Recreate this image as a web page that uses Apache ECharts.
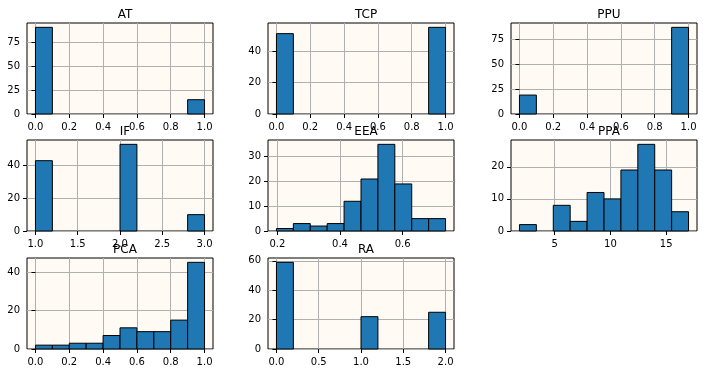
<!DOCTYPE html>
<html>
<head>
<meta charset="utf-8">
<script src="https://cdn.jsdelivr.net/npm/echarts@6/dist/echarts.min.js"></script>
<style>
  html, body { margin: 0; background: #fff; }
  #chart { width: 703px; height: 373px; }
</style>
</head>
<body>
<div id="chart"></div>
<script>
// histogram counts and bin edges
const atEdges = [0, 0.1, 0.2, 0.3, 0.4, 0.5, 0.6, 0.7, 0.8, 0.9, 1.0]
const atCounts = [91, 0, 0, 0, 0, 0, 0, 0, 0, 15]
const tcpEdges = [0, 0.1, 0.2, 0.3, 0.4, 0.5, 0.6, 0.7, 0.8, 0.9, 1.0]
const tcpCounts = [51, 0, 0, 0, 0, 0, 0, 0, 0, 55]
const ppuEdges = [0, 0.1, 0.2, 0.3, 0.4, 0.5, 0.6, 0.7, 0.8, 0.9, 1.0]
const ppuCounts = [19, 0, 0, 0, 0, 0, 0, 0, 0, 87]
const ifEdges = [1.0, 1.2, 1.4, 1.6, 1.8, 2.0, 2.2, 2.4, 2.6, 2.8, 3.0]
const ifCounts = [43, 0, 0, 0, 0, 53, 0, 0, 0, 10]
const eeaEdges = [0.197, 0.251, 0.305, 0.359, 0.413, 0.467, 0.521, 0.575, 0.629, 0.683, 0.737]
const eeaCounts = [1, 3, 2, 3, 12, 21, 35, 19, 5, 5]
const ppaEdges = [1.85, 3.365, 4.88, 6.395, 7.91, 9.425, 10.94, 12.455, 13.97, 15.485, 17.0]
const ppaCounts = [2, 0, 8, 3, 12, 10, 19, 27, 19, 6]
const pcaEdges = [0, 0.1, 0.2, 0.3, 0.4, 0.5, 0.6, 0.7, 0.8, 0.9, 1.0]
const pcaCounts = [2, 2, 3, 3, 7, 11, 9, 9, 15, 45]
const raEdges = [0, 0.2, 0.4, 0.6, 0.8, 1.0, 1.2, 1.4, 1.6, 1.8, 2.0]
const raCounts = [59, 0, 0, 0, 0, 22, 0, 0, 0, 25]

// tick values
const ticks01 = [0, 0.2, 0.4, 0.6, 0.8, 1.0]
const ifTicksX = [1.0, 1.5, 2.0, 2.5, 3.0]
const eeaTicksX = [0.2, 0.4, 0.6]
const ppaTicksX = [5, 10, 15]
const raTicksX = [0, 0.5, 1.0, 1.5, 2.0]
const ticksY25 = [0, 25, 50, 75]
const ticksY20 = [0, 20, 40]
const ticksY10 = [0, 10, 20, 30]
const ppaTicksY = [0, 10, 20]
const raTicksY = [0, 20, 40, 60]

const panels = [
  { title: 'AT', edges: atEdges, counts: atCounts, xTicks: ticks01, yTicks: ticksY25, dec: 1 },
  { title: 'TCP', edges: tcpEdges, counts: tcpCounts, xTicks: ticks01, yTicks: ticksY20, dec: 1 },
  { title: 'PPU', edges: ppuEdges, counts: ppuCounts, xTicks: ticks01, yTicks: ticksY25, dec: 1 },
  { title: 'IF', edges: ifEdges, counts: ifCounts, xTicks: ifTicksX, yTicks: ticksY20, dec: 1 },
  { title: 'EEA', edges: eeaEdges, counts: eeaCounts, xTicks: eeaTicksX, yTicks: ticksY10, dec: 1 },
  { title: 'PPA', edges: ppaEdges, counts: ppaCounts, xTicks: ppaTicksX, yTicks: ppaTicksY, dec: 0 },
  { title: 'PCA', edges: pcaEdges, counts: pcaCounts, xTicks: ticks01, yTicks: ticksY20, dec: 1 },
  { title: 'RA', edges: raEdges, counts: raCounts, xTicks: raTicksX, yTicks: raTicksY, dec: 1 }
]

const COL_LEFT = [27, 268, 511]
const ROW_TOP = [23, 140, 258]
const W = 186
const H = 91
const FONT = 'DejaVu Sans'

const option = {
  animation: false,
  backgroundColor: '#fff',
  title: [],
  grid: [],
  xAxis: [],
  yAxis: [],
  series: []
}

panels.forEach((p, i) => {
  const left = COL_LEFT[i % 3]
  const top = ROW_TOP[Math.floor(i / 3)]
  const lo = p.edges[0]
  const hi = p.edges[p.edges.length - 1]
  const pad = (hi - lo) * 0.05
  const yMax = Math.max(...p.counts) * 1.05

  option.title.push({
    text: p.title,
    left: left + W / 2,
    top: top - 19,
    textAlign: 'center',
    textStyle: { fontFamily: FONT, fontSize: 12, fontWeight: 'normal', color: '#000' }
  })
  option.grid.push({
    left: left, top: top, width: W, height: H,
    show: true, backgroundColor: '#fffaf4', borderColor: '#000', borderWidth: 1
  })
  option.xAxis.push({
    type: 'value', gridIndex: i, min: lo - pad, max: hi + pad,
    axisLine: { show: false },
    axisTick: { show: true, length: 4, customValues: p.xTicks, lineStyle: { color: '#000' } },
    axisLabel: {
      customValues: p.xTicks, margin: 8, fontFamily: FONT, fontSize: 10, color: '#000',
      formatter: (v) => v.toFixed(p.dec)
    },
    splitLine: { show: true, lineStyle: { color: '#b0b0b0', width: 1 } }
  })
  option.yAxis.push({
    type: 'value', gridIndex: i, min: 0, max: yMax,
    axisLine: { show: false },
    axisTick: { show: true, length: 4, customValues: p.yTicks, lineStyle: { color: '#000' } },
    axisLabel: {
      customValues: p.yTicks, margin: 7, fontFamily: FONT, fontSize: 10, color: '#000',
      formatter: (v) => String(v)
    },
    splitLine: { show: true, lineStyle: { color: '#b0b0b0', width: 1 } }
  })

  const data = []
  p.counts.forEach((c, k) => {
    if (c > 0) data.push([p.edges[k], p.edges[k + 1], c])
  })
  option.series.push({
    type: 'custom',
    xAxisIndex: i,
    yAxisIndex: i,
    data: data,
    encode: { x: [0, 1], y: 2 },
    renderItem: (params, api) => {
      const a = api.coord([api.value(0), api.value(2)])
      const b = api.coord([api.value(1), 0])
      return {
        type: 'rect',
        shape: { x: a[0], y: a[1], width: b[0] - a[0], height: b[1] - a[1] },
        style: { fill: '#1f77b4', stroke: '#000', lineWidth: 1 }
      }
    }
  })
})

const chart = echarts.init(document.getElementById('chart'))
chart.setOption(option)
</script>
</body>
</html>
